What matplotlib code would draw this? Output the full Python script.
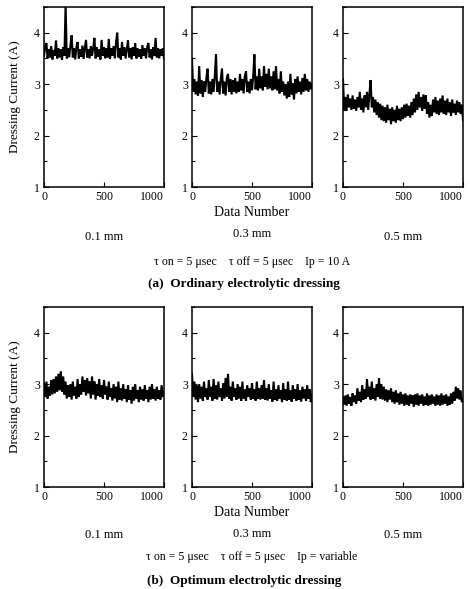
import matplotlib
matplotlib.use("Agg")
import matplotlib.pyplot as plt
import numpy as np

plt.rcParams['font.family'] = ['Liberation Serif', 'DejaVu Serif']

data_number = list(range(0, 1001, 10))

a_01mm = [3.55, 3.72, 3.80, 3.50, 3.68, 3.52, 3.74, 3.48, 3.66, 3.55,
          3.85, 3.50, 3.70, 3.52, 3.68, 3.47, 3.72, 3.55, 4.55, 3.50,
          3.70, 3.52, 3.75, 3.95, 3.52, 3.70, 3.48, 3.72, 3.82, 3.50,
          3.68, 3.53, 3.75, 3.49, 3.70, 3.86, 3.52, 3.68, 3.50, 3.74,
          3.55, 3.70, 3.90, 3.50, 3.72, 3.53, 3.68, 3.48, 3.86, 3.55,
          3.72, 3.50, 3.70, 3.52, 3.88, 3.49, 3.70, 3.55, 3.74, 3.50,
          3.80, 4.00, 3.52, 3.70, 3.48, 3.82, 3.55, 3.72, 3.50, 3.68,
          3.85, 3.52, 3.70, 3.48, 3.72, 3.55, 3.80, 3.50, 3.70, 3.53,
          3.68, 3.49, 3.76, 3.55, 3.70, 3.50, 3.72, 3.80, 3.52, 3.68,
          3.48, 3.72, 3.55, 3.90, 3.52, 3.70, 3.50, 3.68, 3.55, 3.70,
          3.50]

a_03mm = [3.50, 2.85, 3.10, 2.80, 3.05, 2.78, 3.35, 2.82, 3.08, 2.75,
          3.05, 2.85, 3.12, 3.30, 2.82, 3.05, 2.80, 3.10, 2.85, 3.15,
          3.58, 2.85, 3.05, 2.80, 3.10, 3.30, 2.82, 3.05, 2.78, 3.12,
          3.20, 2.85, 3.10, 2.80, 3.08, 2.85, 3.12, 2.82, 3.05, 2.85,
          3.20, 2.88, 3.10, 2.82, 3.15, 3.25, 2.85, 3.05, 2.82, 3.10,
          2.88, 3.15, 3.58, 2.90, 3.15, 2.88, 3.30, 2.92, 3.15, 2.88,
          3.35, 2.95, 3.20, 2.90, 3.30, 2.92, 3.15, 2.88, 3.25, 2.90,
          3.35, 2.88, 3.10, 2.82, 3.25, 2.85, 3.05, 2.78, 3.00, 2.72,
          3.05, 2.75, 3.20, 2.80, 3.02, 2.70, 3.10, 2.82, 3.15, 2.85,
          3.05, 2.80, 3.12, 2.85, 3.20, 2.88, 3.10, 2.85, 3.05, 2.90,
          3.00]

a_05mm = [3.10, 2.50, 2.75, 2.48, 2.80, 2.55, 2.72, 2.50, 2.78, 2.52,
          2.70, 2.48, 2.75, 2.55, 2.85, 2.50, 2.72, 2.45, 2.78, 2.55,
          2.85, 2.50, 2.80, 3.08, 2.55, 2.75, 2.45, 2.70, 2.40, 2.65,
          2.35, 2.62, 2.30, 2.58, 2.28, 2.55, 2.25, 2.60, 2.30, 2.52,
          2.22, 2.55, 2.28, 2.50, 2.25, 2.58, 2.30, 2.52, 2.28, 2.55,
          2.32, 2.60, 2.35, 2.62, 2.38, 2.58, 2.35, 2.65, 2.40, 2.72,
          2.45, 2.80, 2.50, 2.85, 2.55, 2.75, 2.48, 2.80, 2.52, 2.78,
          2.42, 2.65, 2.35, 2.60, 2.38, 2.70, 2.45, 2.75, 2.42, 2.68,
          2.40, 2.72, 2.45, 2.78, 2.42, 2.68, 2.40, 2.72, 2.45, 2.65,
          2.38, 2.70, 2.45, 2.62, 2.40, 2.68, 2.45, 2.65, 2.42, 2.60,
          2.30]

b_01mm = [3.00, 2.75, 3.05, 2.72, 2.95, 2.78, 3.08, 2.80, 3.10, 2.82,
          3.15, 2.85, 3.20, 2.88, 3.25, 2.85, 3.15, 2.80, 3.05, 2.72,
          2.98, 2.75, 3.00, 2.70, 3.05, 2.78, 2.95, 2.72, 3.10, 2.75,
          3.00, 2.80, 3.15, 2.85, 3.08, 2.78, 3.12, 2.82, 3.05, 2.72,
          3.15, 2.80, 3.05, 2.70, 3.00, 2.78, 3.10, 2.75, 2.98, 2.72,
          3.08, 2.80, 2.95, 2.70, 3.05, 2.75, 2.92, 2.68, 3.00, 2.72,
          2.95, 2.65, 3.05, 2.70, 2.92, 2.68, 3.00, 2.72, 2.90, 2.65,
          2.98, 2.70, 2.88, 2.62, 2.95, 2.68, 3.00, 2.72, 2.88, 2.65,
          2.95, 2.70, 2.90, 2.68, 2.98, 2.72, 2.88, 2.65, 2.95, 2.70,
          3.00, 2.72, 2.90, 2.68, 2.95, 2.72, 2.88, 2.70, 2.98, 2.75,
          2.85]

b_03mm = [3.20, 2.75, 3.05, 2.70, 2.98, 2.65, 3.00, 2.72, 2.95, 2.68,
          3.05, 2.75, 2.92, 2.70, 3.08, 2.75, 2.95, 2.68, 3.10, 2.72,
          2.98, 2.70, 3.05, 2.75, 2.92, 2.68, 3.02, 2.72, 3.12, 2.75,
          3.20, 2.72, 2.95, 2.68, 3.05, 2.75, 2.92, 2.70, 3.00, 2.72,
          2.95, 2.68, 3.05, 2.72, 2.90, 2.68, 2.98, 2.75, 2.92, 2.70,
          3.02, 2.72, 2.90, 2.68, 3.05, 2.72, 2.92, 2.70, 2.98, 2.72,
          3.08, 2.70, 2.92, 2.68, 3.00, 2.72, 2.88, 2.66, 3.05, 2.70,
          2.90, 2.68, 2.98, 2.72, 2.88, 2.65, 3.02, 2.70, 2.90, 2.68,
          3.05, 2.70, 2.88, 2.66, 2.98, 2.72, 2.90, 2.68, 3.00, 2.70,
          2.88, 2.66, 2.95, 2.72, 2.90, 2.68, 2.98, 2.72, 2.90, 2.65,
          2.80]

b_05mm = [2.75, 2.60, 2.78, 2.58, 2.80, 2.62, 2.75, 2.58, 2.82, 2.65,
          2.78, 2.62, 2.92, 2.68, 2.85, 2.65, 2.98, 2.70, 2.90, 2.72,
          3.10, 2.75, 2.95, 2.70, 3.05, 2.72, 2.92, 2.68, 3.00, 2.75,
          3.12, 2.72, 3.00, 2.70, 2.95, 2.68, 2.90, 2.65, 2.88, 2.70,
          2.92, 2.65, 2.85, 2.62, 2.88, 2.65, 2.82, 2.60, 2.85, 2.62,
          2.80, 2.58, 2.82, 2.60, 2.78, 2.58, 2.80, 2.62, 2.78, 2.56,
          2.80, 2.60, 2.82, 2.58, 2.78, 2.62, 2.80, 2.58, 2.76, 2.60,
          2.82, 2.58, 2.78, 2.60, 2.80, 2.62, 2.76, 2.58, 2.80, 2.60,
          2.78, 2.58, 2.82, 2.60, 2.78, 2.62, 2.80, 2.58, 2.76, 2.60,
          2.82, 2.62, 2.85, 2.68, 2.95, 2.72, 2.92, 2.70, 2.88, 2.65,
          2.70]

gap_labels = ["0.1 mm", "0.3 mm", "0.5 mm"]
y_ticks = [1, 2, 3, 4]
x_ticks = [0, 500, 1000]
y_label = "Dressing Current (A)"
x_label = "Data Number"
cond_a = "τ on = 5 μsec    τ off = 5 μsec    Ip = 10 A"
cond_b = "τ on = 5 μsec    τ off = 5 μsec    Ip = variable"
title_a = "(a)  Ordinary electrolytic dressing"
title_b = "(b)  Optimum electrolytic dressing"

W, H = 470, 589
fig = plt.figure(figsize=(W / 100, H / 100), dpi=100)

def fx(px):
    return px / W

def fy(py):
    return 1 - py / H

lefts = [44, 192, 343]
widths = [120, 120, 120]
rows = [(7, 187, [a_01mm, a_03mm, a_05mm]), (307, 487, [b_01mm, b_03mm, b_05mm])]

for (top, bot, series) in rows:
    for i, (l, w, s) in enumerate(zip(lefts, widths, series)):
        ax = fig.add_axes([fx(l), fy(bot), fx(w), (bot - top) / H])
        ax.plot(data_number, s, color='black', lw=1.5, solid_joinstyle='miter')
        ax.set_xlim(0, 1000)
        ax.set_ylim(1, 4.5)
        ax.set_yticks(y_ticks)
        ax.set_yticks([1.5, 2.5, 3.5, 4.5], minor=True)
        ax.set_xticks(x_ticks)
        ax.set_xticklabels([str(v) for v in x_ticks])
        ax.tick_params(direction='in', length=3.5, width=0.8, labelsize=8.5, pad=3)
        ax.tick_params(which='minor', direction='in', length=2.5, width=0.8)
        labs = ax.get_xticklabels()
        labs[-1].set_horizontalalignment('right')
        for sp in ax.spines.values():
            sp.set_linewidth(1.1)

# texts
for (yy_lab, yy_dn, yy_cond, yy_title, cond, title, gap_y) in [
        (97, 212, 262, 284, cond_a, title_a, [237, 234, 237]),
        (397, 513, 557, 581, cond_b, title_b, [535, 534, 535])]:
    fig.text(fx(15), fy(yy_lab), y_label, rotation=90, ha='center', va='center', fontsize=9.5)
    fig.text(fx(252), fy(yy_dn), x_label, ha='center', va='center', fontsize=10)
    for l, g, gy in zip(lefts, gap_labels, gap_y):
        fig.text(fx(l + 60), fy(gy), g, ha='center', va='center', fontsize=9)
    fig.text(fx(252), fy(yy_cond), cond, ha='center', va='center', fontsize=8.5)
    fig.text(fx(244), fy(yy_title), title, ha='center', va='center', fontsize=9.5, fontweight='bold')

fig.savefig("out.png", dpi=100)
